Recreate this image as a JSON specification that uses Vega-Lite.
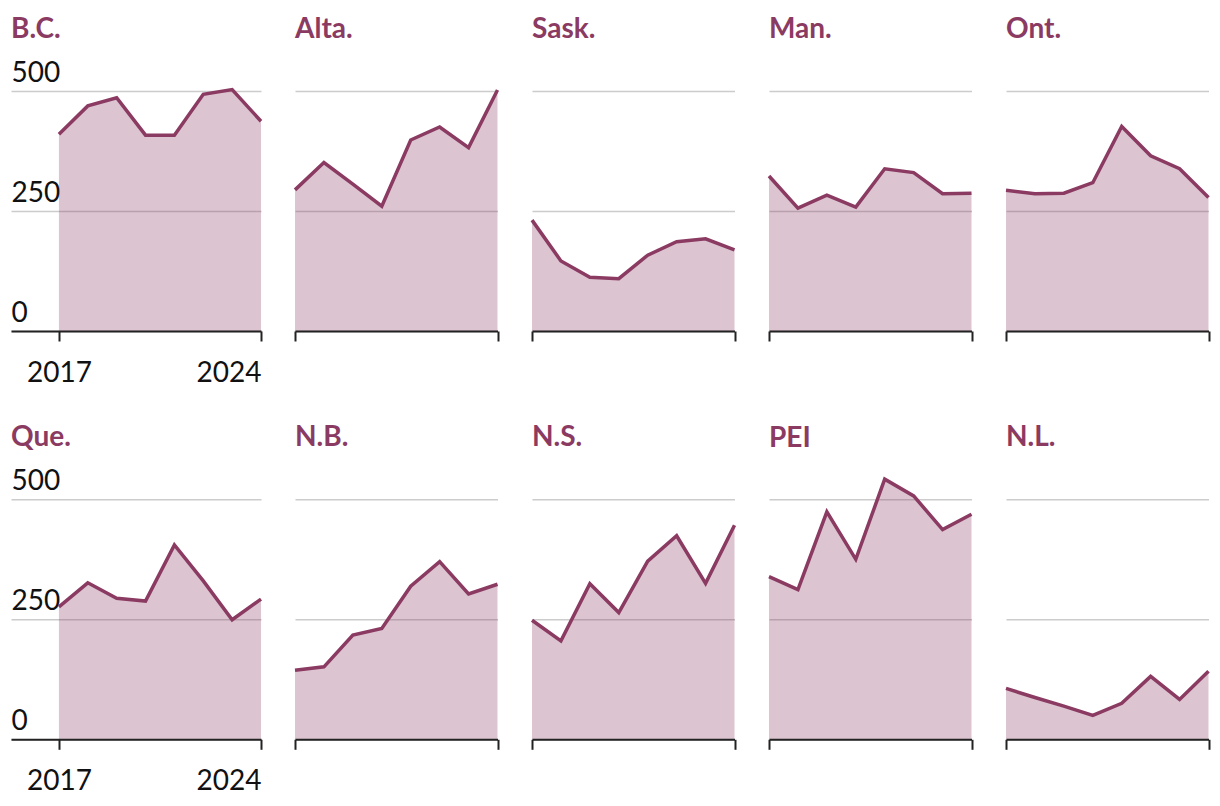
{
  "$schema": "https://vega.github.io/schema/vega-lite/v6.json",
  "padding": {"left": 11, "top": 16, "right": 5, "bottom": 5},
  "background": "white",
  "bounds": "flush",
  "spacing": 408.3,
  "datasets": {
    "d": [
      {"p": "B.C.", "year": 2017, "v": 410}, {"p": "B.C.", "year": 2018, "v": 469}, {"p": "B.C.", "year": 2019, "v": 486}, {"p": "B.C.", "year": 2020, "v": 408}, {"p": "B.C.", "year": 2021, "v": 408}, {"p": "B.C.", "year": 2022, "v": 493}, {"p": "B.C.", "year": 2023, "v": 503}, {"p": "B.C.", "year": 2024, "v": 437},
      {"p": "Alta.", "year": 2017, "v": 294}, {"p": "Alta.", "year": 2018, "v": 351}, {"p": "Alta.", "year": 2019, "v": 306}, {"p": "Alta.", "year": 2020, "v": 260}, {"p": "Alta.", "year": 2021, "v": 398}, {"p": "Alta.", "year": 2022, "v": 425}, {"p": "Alta.", "year": 2023, "v": 382}, {"p": "Alta.", "year": 2024, "v": 502},
      {"p": "Sask.", "year": 2017, "v": 231}, {"p": "Sask.", "year": 2018, "v": 146}, {"p": "Sask.", "year": 2019, "v": 112}, {"p": "Sask.", "year": 2020, "v": 109}, {"p": "Sask.", "year": 2021, "v": 158}, {"p": "Sask.", "year": 2022, "v": 186}, {"p": "Sask.", "year": 2023, "v": 192}, {"p": "Sask.", "year": 2024, "v": 169},
      {"p": "Man.", "year": 2017, "v": 323}, {"p": "Man.", "year": 2018, "v": 256}, {"p": "Man.", "year": 2019, "v": 283}, {"p": "Man.", "year": 2020, "v": 258}, {"p": "Man.", "year": 2021, "v": 338}, {"p": "Man.", "year": 2022, "v": 330}, {"p": "Man.", "year": 2023, "v": 286}, {"p": "Man.", "year": 2024, "v": 287},
      {"p": "Ont.", "year": 2017, "v": 293}, {"p": "Ont.", "year": 2018, "v": 286}, {"p": "Ont.", "year": 2019, "v": 287}, {"p": "Ont.", "year": 2020, "v": 309}, {"p": "Ont.", "year": 2021, "v": 426}, {"p": "Ont.", "year": 2022, "v": 365}, {"p": "Ont.", "year": 2023, "v": 338}, {"p": "Ont.", "year": 2024, "v": 278},
      {"p": "Que.", "year": 2017, "v": 276}, {"p": "Que.", "year": 2018, "v": 326}, {"p": "Que.", "year": 2019, "v": 294}, {"p": "Que.", "year": 2020, "v": 288}, {"p": "Que.", "year": 2021, "v": 405}, {"p": "Que.", "year": 2022, "v": 330}, {"p": "Que.", "year": 2023, "v": 249}, {"p": "Que.", "year": 2024, "v": 292},
      {"p": "N.B.", "year": 2017, "v": 144}, {"p": "N.B.", "year": 2018, "v": 151}, {"p": "N.B.", "year": 2019, "v": 217}, {"p": "N.B.", "year": 2020, "v": 231}, {"p": "N.B.", "year": 2021, "v": 319}, {"p": "N.B.", "year": 2022, "v": 370}, {"p": "N.B.", "year": 2023, "v": 303}, {"p": "N.B.", "year": 2024, "v": 323},
      {"p": "N.S.", "year": 2017, "v": 248}, {"p": "N.S.", "year": 2018, "v": 205}, {"p": "N.S.", "year": 2019, "v": 324}, {"p": "N.S.", "year": 2020, "v": 264}, {"p": "N.S.", "year": 2021, "v": 371}, {"p": "N.S.", "year": 2022, "v": 424}, {"p": "N.S.", "year": 2023, "v": 325}, {"p": "N.S.", "year": 2024, "v": 446},
      {"p": "PEI", "year": 2017, "v": 339}, {"p": "PEI", "year": 2018, "v": 312}, {"p": "PEI", "year": 2019, "v": 474}, {"p": "PEI", "year": 2020, "v": 375}, {"p": "PEI", "year": 2021, "v": 542}, {"p": "PEI", "year": 2022, "v": 507}, {"p": "PEI", "year": 2023, "v": 437}, {"p": "PEI", "year": 2024, "v": 469},
      {"p": "N.L.", "year": 2017, "v": 106}, {"p": "N.L.", "year": 2018, "v": 87}, {"p": "N.L.", "year": 2019, "v": 69}, {"p": "N.L.", "year": 2020, "v": 50}, {"p": "N.L.", "year": 2021, "v": 75}, {"p": "N.L.", "year": 2022, "v": 131}, {"p": "N.L.", "year": 2023, "v": 83}, {"p": "N.L.", "year": 2024, "v": 142}
    ]
  },
  "vconcat": [
    {
      "hconcat": [
        {
          "width": 250, "height": 240,
          "title": {"text": "B.C.", "offset": 15},
          "data": {"name": "d"},
          "transform": [{"filter": "datum.p === 'B.C.'"}],
          "encoding": {
            "x": {"field": "year", "type": "quantitative", "scale": {"domain": [2015.34, 2024], "nice": false, "zero": false},
              "axis": {"values": [2017, 2024], "format": "d", "title": null, "grid": false, "labels": true, "labelFlush": true, "labelPadding": 18, "tickSize": 10, "tickWidth": 2, "tickColor": "#222", "domainColor": "#222", "domainWidth": 2, "zindex": 1}},
            "y": {"field": "v", "type": "quantitative", "scale": {"domain": [0, 500], "nice": false},
              "axis": {"values": [0, 250, 500], "title": null, "grid": true, "domain": false, "ticks": false, "tickSize": 0, "labels": true, "labelAlign": "left", "labelBaseline": "alphabetic", "labelPadding": 0, "labelOffset": -10}}
          },
          "layer": [
            {"mark": {"type": "area", "color": "#8b3a62", "opacity": 0.3}},
            {"mark": {"type": "line", "color": "#8b3a62", "strokeWidth": 3.5}}
          ]
        },
        {
          "width": 202.5, "height": 240,
          "title": {"text": "Alta.", "offset": 39},
          "data": {"name": "d"},
          "transform": [{"filter": "datum.p === 'Alta.'"}],
          "encoding": {
            "x": {"field": "year", "type": "quantitative", "scale": {"domain": [2017, 2024], "nice": false, "zero": false},
              "axis": {"values": [2017, 2024], "title": null, "grid": false, "labels": false, "tickSize": 10, "tickWidth": 2, "tickColor": "#222", "domainColor": "#222", "domainWidth": 2, "zindex": 1}},
            "y": {"field": "v", "type": "quantitative", "scale": {"domain": [0, 500], "nice": false},
              "axis": {"values": [0, 250, 500], "title": null, "grid": true, "domain": false, "ticks": false, "tickSize": 0, "labels": false}}
          },
          "layer": [
            {"mark": {"type": "area", "color": "#8b3a62", "opacity": 0.3}},
            {"mark": {"type": "line", "color": "#8b3a62", "strokeWidth": 3.5}}
          ]
        },
        {
          "width": 202.5, "height": 240,
          "title": {"text": "Sask.", "offset": 47},
          "data": {"name": "d"},
          "transform": [{"filter": "datum.p === 'Sask.'"}],
          "encoding": {
            "x": {"field": "year", "type": "quantitative", "scale": {"domain": [2017, 2024], "nice": false, "zero": false},
              "axis": {"values": [2017, 2024], "title": null, "grid": false, "labels": false, "tickSize": 10, "tickWidth": 2, "tickColor": "#222", "domainColor": "#222", "domainWidth": 2, "zindex": 1}},
            "y": {"field": "v", "type": "quantitative", "scale": {"domain": [0, 500], "nice": false},
              "axis": {"values": [0, 250, 500], "title": null, "grid": true, "domain": false, "ticks": false, "tickSize": 0, "labels": false}}
          },
          "layer": [
            {"mark": {"type": "area", "color": "#8b3a62", "opacity": 0.3}},
            {"mark": {"type": "line", "color": "#8b3a62", "strokeWidth": 3.5}}
          ]
        },
        {
          "width": 202.5, "height": 240,
          "title": {"text": "Man.", "offset": 47},
          "data": {"name": "d"},
          "transform": [{"filter": "datum.p === 'Man.'"}],
          "encoding": {
            "x": {"field": "year", "type": "quantitative", "scale": {"domain": [2017, 2024], "nice": false, "zero": false},
              "axis": {"values": [2017, 2024], "title": null, "grid": false, "labels": false, "tickSize": 10, "tickWidth": 2, "tickColor": "#222", "domainColor": "#222", "domainWidth": 2, "zindex": 1}},
            "y": {"field": "v", "type": "quantitative", "scale": {"domain": [0, 500], "nice": false},
              "axis": {"values": [0, 250, 500], "title": null, "grid": true, "domain": false, "ticks": false, "tickSize": 0, "labels": false}}
          },
          "layer": [
            {"mark": {"type": "area", "color": "#8b3a62", "opacity": 0.3}},
            {"mark": {"type": "line", "color": "#8b3a62", "strokeWidth": 3.5}}
          ]
        },
        {
          "width": 202.5, "height": 240,
          "title": {"text": "Ont.", "offset": 47},
          "data": {"name": "d"},
          "transform": [{"filter": "datum.p === 'Ont.'"}],
          "encoding": {
            "x": {"field": "year", "type": "quantitative", "scale": {"domain": [2017, 2024], "nice": false, "zero": false},
              "axis": {"values": [2017, 2024], "title": null, "grid": false, "labels": false, "tickSize": 10, "tickWidth": 2, "tickColor": "#222", "domainColor": "#222", "domainWidth": 2, "zindex": 1}},
            "y": {"field": "v", "type": "quantitative", "scale": {"domain": [0, 500], "nice": false},
              "axis": {"values": [0, 250, 500], "title": null, "grid": true, "domain": false, "ticks": false, "tickSize": 0, "labels": false}}
          },
          "layer": [
            {"mark": {"type": "area", "color": "#8b3a62", "opacity": 0.3}},
            {"mark": {"type": "line", "color": "#8b3a62", "strokeWidth": 3.5}}
          ]
        }
      ],
      "spacing": 34,
      "bounds": "flush"
    },
    {
      "hconcat": [
        {
          "width": 250, "height": 240,
          "title": {"text": "Que.", "offset": 15},
          "data": {"name": "d"},
          "transform": [{"filter": "datum.p === 'Que.'"}],
          "encoding": {
            "x": {"field": "year", "type": "quantitative", "scale": {"domain": [2015.34, 2024], "nice": false, "zero": false},
              "axis": {"values": [2017, 2024], "format": "d", "title": null, "grid": false, "labels": true, "labelFlush": true, "labelPadding": 18, "tickSize": 10, "tickWidth": 2, "tickColor": "#222", "domainColor": "#222", "domainWidth": 2, "zindex": 1}},
            "y": {"field": "v", "type": "quantitative", "scale": {"domain": [0, 500], "nice": false},
              "axis": {"values": [0, 250, 500], "title": null, "grid": true, "domain": false, "ticks": false, "tickSize": 0, "labels": true, "labelAlign": "left", "labelBaseline": "alphabetic", "labelPadding": 0, "labelOffset": -10}}
          },
          "layer": [
            {"mark": {"type": "area", "color": "#8b3a62", "opacity": 0.3}},
            {"mark": {"type": "line", "color": "#8b3a62", "strokeWidth": 3.5}}
          ]
        },
        {
          "width": 202.5, "height": 240,
          "title": {"text": "N.B.", "offset": 47},
          "data": {"name": "d"},
          "transform": [{"filter": "datum.p === 'N.B.'"}],
          "encoding": {
            "x": {"field": "year", "type": "quantitative", "scale": {"domain": [2017, 2024], "nice": false, "zero": false},
              "axis": {"values": [2017, 2024], "title": null, "grid": false, "labels": false, "tickSize": 10, "tickWidth": 2, "tickColor": "#222", "domainColor": "#222", "domainWidth": 2, "zindex": 1}},
            "y": {"field": "v", "type": "quantitative", "scale": {"domain": [0, 500], "nice": false},
              "axis": {"values": [0, 250, 500], "title": null, "grid": true, "domain": false, "ticks": false, "tickSize": 0, "labels": false}}
          },
          "layer": [
            {"mark": {"type": "area", "color": "#8b3a62", "opacity": 0.3}},
            {"mark": {"type": "line", "color": "#8b3a62", "strokeWidth": 3.5}}
          ]
        },
        {
          "width": 202.5, "height": 240,
          "title": {"text": "N.S.", "offset": 47},
          "data": {"name": "d"},
          "transform": [{"filter": "datum.p === 'N.S.'"}],
          "encoding": {
            "x": {"field": "year", "type": "quantitative", "scale": {"domain": [2017, 2024], "nice": false, "zero": false},
              "axis": {"values": [2017, 2024], "title": null, "grid": false, "labels": false, "tickSize": 10, "tickWidth": 2, "tickColor": "#222", "domainColor": "#222", "domainWidth": 2, "zindex": 1}},
            "y": {"field": "v", "type": "quantitative", "scale": {"domain": [0, 500], "nice": false},
              "axis": {"values": [0, 250, 500], "title": null, "grid": true, "domain": false, "ticks": false, "tickSize": 0, "labels": false}}
          },
          "layer": [
            {"mark": {"type": "area", "color": "#8b3a62", "opacity": 0.3}},
            {"mark": {"type": "line", "color": "#8b3a62", "strokeWidth": 3.5}}
          ]
        },
        {
          "width": 202.5, "height": 240,
          "title": {"text": "PEI", "offset": 19},
          "data": {"name": "d"},
          "transform": [{"filter": "datum.p === 'PEI'"}],
          "encoding": {
            "x": {"field": "year", "type": "quantitative", "scale": {"domain": [2017, 2024], "nice": false, "zero": false},
              "axis": {"values": [2017, 2024], "title": null, "grid": false, "labels": false, "tickSize": 10, "tickWidth": 2, "tickColor": "#222", "domainColor": "#222", "domainWidth": 2, "zindex": 1}},
            "y": {"field": "v", "type": "quantitative", "scale": {"domain": [0, 500], "nice": false},
              "axis": {"values": [0, 250, 500], "title": null, "grid": true, "domain": false, "ticks": false, "tickSize": 0, "labels": false}}
          },
          "layer": [
            {"mark": {"type": "area", "color": "#8b3a62", "opacity": 0.3}},
            {"mark": {"type": "line", "color": "#8b3a62", "strokeWidth": 3.5}}
          ]
        },
        {
          "width": 202.5, "height": 240,
          "title": {"text": "N.L.", "offset": 47},
          "data": {"name": "d"},
          "transform": [{"filter": "datum.p === 'N.L.'"}],
          "encoding": {
            "x": {"field": "year", "type": "quantitative", "scale": {"domain": [2017, 2024], "nice": false, "zero": false},
              "axis": {"values": [2017, 2024], "title": null, "grid": false, "labels": false, "tickSize": 10, "tickWidth": 2, "tickColor": "#222", "domainColor": "#222", "domainWidth": 2, "zindex": 1}},
            "y": {"field": "v", "type": "quantitative", "scale": {"domain": [0, 500], "nice": false},
              "axis": {"values": [0, 250, 500], "title": null, "grid": true, "domain": false, "ticks": false, "tickSize": 0, "labels": false}}
          },
          "layer": [
            {"mark": {"type": "area", "color": "#8b3a62", "opacity": 0.3}},
            {"mark": {"type": "line", "color": "#8b3a62", "strokeWidth": 3.5}}
          ]
        }
      ],
      "spacing": 34,
      "bounds": "flush"
    }
  ],
  "config": {
    "view": {"stroke": null},
    "axis": {"labelFont": "Lato", "labelFontSize": 28, "labelColor": "#111", "gridColor": "#cccccc", "gridWidth": 1.5},
    "title": {"font": "Lato", "fontSize": 28, "fontWeight": "bold", "color": "#8b3a62", "anchor": "start", "baseline": "alphabetic", "frame": "group"}
  }
}
